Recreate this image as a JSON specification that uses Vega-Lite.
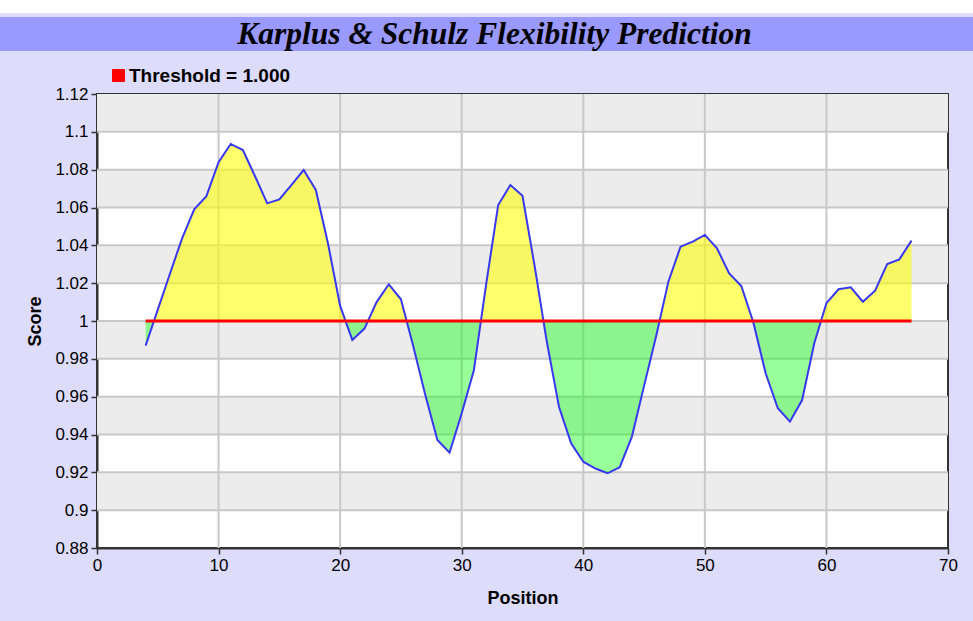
{
  "$schema": "https://vega.github.io/schema/vega-lite/v6.json",
  "background": "#dddcfb",
  "padding": {"left": 0, "top": 0, "right": 0, "bottom": 20},
  "config": {
    "font": "Liberation Sans",
    "axis": {
      "domainColor": "#333333", "domainWidth": 2,
      "tickColor": "#333333", "tickWidth": 1.5, "tickSize": 6,
      "labelFont": "Liberation Sans", "labelFontSize": 17, "labelColor": "#000000", "labelPadding": 3,
      "labelOverlap": false, "zindex": 1,
      "titleFont": "Liberation Sans", "titleFontSize": 18, "titleFontWeight": "bold", "titleColor": "#000000",
      "grid": false
    }
  },
  "datasets": {
    "scores": [
      {"position": 4, "score": 0.987}, {"position": 5, "score": 1.006}, {"position": 6, "score": 1.025},
      {"position": 7, "score": 1.0437}, {"position": 8, "score": 1.059}, {"position": 9, "score": 1.066},
      {"position": 10, "score": 1.084}, {"position": 11, "score": 1.0936}, {"position": 12, "score": 1.0904},
      {"position": 13, "score": 1.0765}, {"position": 14, "score": 1.0622}, {"position": 15, "score": 1.0643},
      {"position": 16, "score": 1.072}, {"position": 17, "score": 1.0798}, {"position": 18, "score": 1.0693},
      {"position": 19, "score": 1.041}, {"position": 20, "score": 1.008}, {"position": 21, "score": 0.99},
      {"position": 22, "score": 0.996}, {"position": 23, "score": 1.01}, {"position": 24, "score": 1.0194},
      {"position": 25, "score": 1.0115}, {"position": 26, "score": 0.987}, {"position": 27, "score": 0.961},
      {"position": 28, "score": 0.9371}, {"position": 29, "score": 0.9304}, {"position": 30, "score": 0.9512},
      {"position": 31, "score": 0.974}, {"position": 32, "score": 1.019}, {"position": 33, "score": 1.0613},
      {"position": 34, "score": 1.0719}, {"position": 35, "score": 1.0662}, {"position": 36, "score": 1.029},
      {"position": 37, "score": 0.989}, {"position": 38, "score": 0.9547}, {"position": 39, "score": 0.9354},
      {"position": 40, "score": 0.9256}, {"position": 41, "score": 0.922}, {"position": 42, "score": 0.9195},
      {"position": 43, "score": 0.9227}, {"position": 44, "score": 0.9389}, {"position": 45, "score": 0.9657},
      {"position": 46, "score": 0.9922}, {"position": 47, "score": 1.0208}, {"position": 48, "score": 1.0393},
      {"position": 49, "score": 1.042}, {"position": 50, "score": 1.0455}, {"position": 51, "score": 1.0384},
      {"position": 52, "score": 1.0252}, {"position": 53, "score": 1.0185}, {"position": 54, "score": 0.999},
      {"position": 55, "score": 0.9724}, {"position": 56, "score": 0.9539}, {"position": 57, "score": 0.9468},
      {"position": 58, "score": 0.9582}, {"position": 59, "score": 0.9882}, {"position": 60, "score": 1.0094},
      {"position": 61, "score": 1.0168}, {"position": 62, "score": 1.0178}, {"position": 63, "score": 1.0102},
      {"position": 64, "score": 1.016}, {"position": 65, "score": 1.0301}, {"position": 66, "score": 1.0326},
      {"position": 67, "score": 1.0425}
    ],
    "fill": [
      {"position": 4, "upper": 1, "lower": 0.987}, {"position": 4.68, "upper": 1, "lower": 1},
      {"position": 5, "upper": 1.006, "lower": 1}, {"position": 6, "upper": 1.025, "lower": 1},
      {"position": 7, "upper": 1.0437, "lower": 1}, {"position": 8, "upper": 1.059, "lower": 1},
      {"position": 9, "upper": 1.066, "lower": 1}, {"position": 10, "upper": 1.084, "lower": 1},
      {"position": 11, "upper": 1.0936, "lower": 1}, {"position": 12, "upper": 1.0904, "lower": 1},
      {"position": 13, "upper": 1.0765, "lower": 1}, {"position": 14, "upper": 1.0622, "lower": 1},
      {"position": 15, "upper": 1.0643, "lower": 1}, {"position": 16, "upper": 1.072, "lower": 1},
      {"position": 17, "upper": 1.0798, "lower": 1}, {"position": 18, "upper": 1.0693, "lower": 1},
      {"position": 19, "upper": 1.041, "lower": 1}, {"position": 20, "upper": 1.008, "lower": 1},
      {"position": 20.44, "upper": 1, "lower": 1}, {"position": 21, "upper": 1, "lower": 0.99},
      {"position": 22, "upper": 1, "lower": 0.996}, {"position": 22.29, "upper": 1, "lower": 1},
      {"position": 23, "upper": 1.01, "lower": 1}, {"position": 24, "upper": 1.0194, "lower": 1},
      {"position": 25, "upper": 1.0115, "lower": 1}, {"position": 25.47, "upper": 1, "lower": 1},
      {"position": 26, "upper": 1, "lower": 0.987}, {"position": 27, "upper": 1, "lower": 0.961},
      {"position": 28, "upper": 1, "lower": 0.9371}, {"position": 29, "upper": 1, "lower": 0.9304},
      {"position": 30, "upper": 1, "lower": 0.9512}, {"position": 31, "upper": 1, "lower": 0.974},
      {"position": 31.58, "upper": 1, "lower": 1}, {"position": 32, "upper": 1.019, "lower": 1},
      {"position": 33, "upper": 1.0613, "lower": 1}, {"position": 34, "upper": 1.0719, "lower": 1},
      {"position": 35, "upper": 1.0662, "lower": 1}, {"position": 36, "upper": 1.029, "lower": 1},
      {"position": 36.73, "upper": 1, "lower": 1}, {"position": 37, "upper": 1, "lower": 0.989},
      {"position": 38, "upper": 1, "lower": 0.9547}, {"position": 39, "upper": 1, "lower": 0.9354},
      {"position": 40, "upper": 1, "lower": 0.9256}, {"position": 41, "upper": 1, "lower": 0.922},
      {"position": 42, "upper": 1, "lower": 0.9195}, {"position": 43, "upper": 1, "lower": 0.9227},
      {"position": 44, "upper": 1, "lower": 0.9389}, {"position": 45, "upper": 1, "lower": 0.9657},
      {"position": 46, "upper": 1, "lower": 0.9922}, {"position": 46.27, "upper": 1, "lower": 1},
      {"position": 47, "upper": 1.0208, "lower": 1}, {"position": 48, "upper": 1.0393, "lower": 1},
      {"position": 49, "upper": 1.042, "lower": 1}, {"position": 50, "upper": 1.0455, "lower": 1},
      {"position": 51, "upper": 1.0384, "lower": 1}, {"position": 52, "upper": 1.0252, "lower": 1},
      {"position": 53, "upper": 1.0185, "lower": 1}, {"position": 53.95, "upper": 1, "lower": 1},
      {"position": 54, "upper": 1, "lower": 0.999}, {"position": 55, "upper": 1, "lower": 0.9724},
      {"position": 56, "upper": 1, "lower": 0.9539}, {"position": 57, "upper": 1, "lower": 0.9468},
      {"position": 58, "upper": 1, "lower": 0.9582}, {"position": 59, "upper": 1, "lower": 0.9882},
      {"position": 59.56, "upper": 1, "lower": 1}, {"position": 60, "upper": 1.0094, "lower": 1},
      {"position": 61, "upper": 1.0168, "lower": 1}, {"position": 62, "upper": 1.0178, "lower": 1},
      {"position": 63, "upper": 1.0102, "lower": 1}, {"position": 64, "upper": 1.016, "lower": 1},
      {"position": 65, "upper": 1.0301, "lower": 1}, {"position": 66, "upper": 1.0326, "lower": 1},
      {"position": 67, "upper": 1.0425, "lower": 1}
    ],
    "bands": [
      {"lo": 1.10, "hi": 1.12}, {"lo": 1.06, "hi": 1.08}, {"lo": 1.02, "hi": 1.04},
      {"lo": 0.98, "hi": 1.00}, {"lo": 0.94, "hi": 0.96}, {"lo": 0.90, "hi": 0.92}
    ],
    "gridx": [{"gx": 10}, {"gx": 20}, {"gx": 30}, {"gx": 40}, {"gx": 50}, {"gx": 60}],
    "gridy": [
      {"gy": 0.90}, {"gy": 0.92}, {"gy": 0.94}, {"gy": 0.96}, {"gy": 0.98}, {"gy": 1.00},
      {"gy": 1.02}, {"gy": 1.04}, {"gy": 1.06}, {"gy": 1.08}, {"gy": 1.10}
    ],
    "threshold": [{"start": 4, "end": 67, "threshold": 1, "label": "Threshold = 1.000"}]
  },
  "bounds": "flush",
  "spacing": 4,
  "vconcat": [
    {
      "width": 973, "height": 13,
      "view": {"fill": "#ffffff", "stroke": null},
      "data": {"values": []},
      "mark": "point"
    },
    {
      "width": 973, "height": 34,
      "view": {"fill": "#9999ff", "stroke": null},
      "data": {"values": [{"title": "Karplus & Schulz Flexibility Prediction", "cx": 0.5, "cy": 0.5}]},
      "mark": {
        "type": "text", "align": "center", "baseline": "alphabetic", "dx": 8, "dy": 10,
        "font": "Liberation Serif", "fontSize": 31.5, "fontStyle": "italic", "fontWeight": "bold", "color": "#000000"
      },
      "encoding": {
        "x": {"field": "cx", "type": "quantitative", "scale": {"domain": [0, 1]}, "axis": null},
        "y": {"field": "cy", "type": "quantitative", "scale": {"domain": [0, 1]}, "axis": null},
        "text": {"field": "title"}
      }
    },
    {
      "width": 973, "height": 35,
      "view": {"stroke": null},
      "data": {"values": []},
      "mark": "point"
    },
    {
      "bounds": "flush",
      "spacing": 96,
      "hconcat": [
        {
          "width": 1, "height": 1,
          "view": {"stroke": null},
          "data": {"values": []},
          "mark": "point"
        },
        {
          "width": 851, "height": 454,
          "view": {"fill": "#ffffff", "stroke": "#333333", "strokeWidth": 2},
          "layer": [
            {
              "data": {"name": "bands"},
              "mark": {"type": "rect", "color": "#ececec"},
              "encoding": {
                "y": {
                  "field": "lo", "type": "quantitative", "scale": {"domain": [0.88, 1.12], "nice": false, "zero": false},
                  "axis": {"title": "Score", "values": [0.88, 0.9, 0.92, 0.94, 0.96, 0.98, 1, 1.02, 1.04, 1.06, 1.08, 1.1, 1.12], "format": "~g", "titlePadding": 10, "labelOverlap": false}
                },
                "y2": {"field": "hi"}
              }
            },
            {
              "data": {"name": "gridx"},
              "mark": {"type": "rule", "color": "#c8c8c8", "strokeWidth": 2},
              "encoding": {
                "x": {
                  "field": "gx", "type": "quantitative", "scale": {"domain": [0, 70], "nice": false},
                  "axis": {"title": "Position", "values": [0, 10, 20, 30, 40, 50, 60, 70], "titlePadding": 16, "labelFlush": false}
                }
              }
            },
            {
              "data": {"name": "gridy"},
              "mark": {"type": "rule", "color": "#c8c8c8", "strokeWidth": 2},
              "encoding": {
                "y": {
                  "field": "gy", "type": "quantitative",
                  "axis": {"title": "Score", "values": [0.88, 0.9, 0.92, 0.94, 0.96, 0.98, 1, 1.02, 1.04, 1.06, 1.08, 1.1, 1.12], "format": "~g", "titlePadding": 10, "labelOverlap": false}
                }
              }
            },
            {
              "data": {"name": "fill"},
              "mark": {"type": "area", "color": "#ffff00", "opacity": 0.58},
              "encoding": {
                "x": {
                  "field": "position", "type": "quantitative",
                  "axis": {"title": "Position", "values": [0, 10, 20, 30, 40, 50, 60, 70], "titlePadding": 16, "labelFlush": false}
                },
                "y": {
                  "field": "upper", "type": "quantitative",
                  "axis": {"title": "Score", "values": [0.88, 0.9, 0.92, 0.94, 0.96, 0.98, 1, 1.02, 1.04, 1.06, 1.08, 1.1, 1.12], "format": "~g", "titlePadding": 10, "labelOverlap": false}
                },
                "y2": {"datum": 1}
              }
            },
            {
              "data": {"name": "fill"},
              "mark": {"type": "area", "color": "#00ff00", "opacity": 0.4},
              "encoding": {
                "x": {
                  "field": "position", "type": "quantitative",
                  "axis": {"title": "Position", "values": [0, 10, 20, 30, 40, 50, 60, 70], "titlePadding": 16, "labelFlush": false}
                },
                "y": {
                  "field": "lower", "type": "quantitative",
                  "axis": {"title": "Score", "values": [0.88, 0.9, 0.92, 0.94, 0.96, 0.98, 1, 1.02, 1.04, 1.06, 1.08, 1.1, 1.12], "format": "~g", "titlePadding": 10, "labelOverlap": false}
                },
                "y2": {"datum": 1}
              }
            },
            {
              "data": {"name": "scores"},
              "mark": {"type": "line", "color": "#3838f0", "strokeWidth": 2},
              "encoding": {
                "x": {
                  "field": "position", "type": "quantitative",
                  "axis": {"title": "Position", "values": [0, 10, 20, 30, 40, 50, 60, 70], "titlePadding": 16, "labelFlush": false}
                },
                "y": {
                  "field": "score", "type": "quantitative",
                  "axis": {"title": "Score", "values": [0.88, 0.9, 0.92, 0.94, 0.96, 0.98, 1, 1.02, 1.04, 1.06, 1.08, 1.1, 1.12], "format": "~g", "titlePadding": 10, "labelOverlap": false}
                }
              }
            },
            {
              "data": {"name": "threshold"},
              "mark": {"type": "rule", "strokeWidth": 3},
              "encoding": {
                "x": {
                  "field": "start", "type": "quantitative",
                  "axis": {"title": "Position", "values": [0, 10, 20, 30, 40, 50, 60, 70], "titlePadding": 16, "labelFlush": false}
                },
                "x2": {"field": "end"},
                "y": {
                  "field": "threshold", "type": "quantitative",
                  "axis": {"title": "Score", "values": [0.88, 0.9, 0.92, 0.94, 0.96, 0.98, 1, 1.02, 1.04, 1.06, 1.08, 1.1, 1.12], "format": "~g", "titlePadding": 10, "labelOverlap": false}
                },
                "color": {
                  "field": "label", "type": "nominal",
                  "scale": {"range": ["#ff0000"]},
                  "legend": {
                    "orient": "none", "legendX": 109, "legendY": 66, "title": null, "padding": 0,
                    "symbolType": "square", "symbolSize": 144, "symbolStrokeWidth": 1,
                    "labelFont": "Liberation Sans", "labelFontSize": 19, "labelFontWeight": "bold", "labelColor": "#000000",
                    "labelOffset": 1, "labelLimit": 400,
                    "encode": {"symbols": {"update": {"fill": {"value": "#ff0000"}, "stroke": {"value": "#222222"}, "strokeWidth": {"value": 1}, "opacity": {"value": 1}}}}
                  }
                }
              }
            }
          ]
        }
      ]
    }
  ]
}
